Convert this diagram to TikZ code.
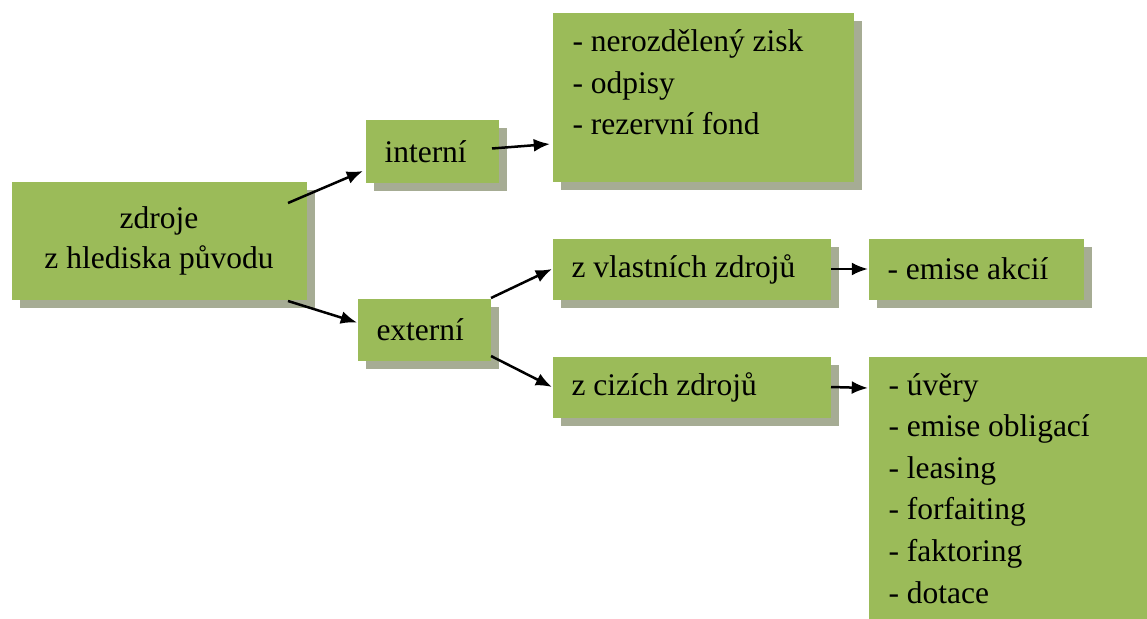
\documentclass[tikz,border=0pt]{standalone}
\usepackage{fontspec}
\setmainfont{Liberation Serif}
\usetikzlibrary{arrows.meta,shadows}
\definecolor{boxgreen}{RGB}{155,187,89}
\definecolor{shadowgrey}{RGB}{166,172,148}
\tikzset{
  box/.style={fill=boxgreen, anchor=north west, inner sep=0pt,
    drop shadow={shadow xshift=3.2pt, shadow yshift=-3.2pt, fill=shadowgrey, opacity=1},
    font=\rmfamily\fontsize{12.6}{16}\selectfont},
  labelbox/.style={box, align=flush left, inner xsep=7.6pt},
  item/.style={anchor=base west, inner sep=0pt, font=\rmfamily\fontsize{12.6}{16}\selectfont},
  link/.style={-{Latex[length=6.5pt,width=5.2pt]}, line width=1pt}
}
\begin{document}
\begin{tikzpicture}[x=0.4pt,y=-0.4pt]
\useasboundingbox (0,0) rectangle (1147,619);

%Boxes
\node[box, align=center, minimum width=118pt, minimum height=46.8pt] (zdroje) at (11,182) {zdroje\\z hlediska původu};
\node[labelbox, text width=38pt, minimum height=24.8pt] (interni) at (365,120) {interní};
\node[labelbox, text width=38pt, minimum height=24.8pt] (externi) at (357,298) {externí};
\node[box, minimum width=120.4pt, minimum height=67.2pt] (intlist) at (552,13) {};
\node[labelbox, text width=96pt, minimum height=24.4pt] (vlastni) at (552,238) {z vlastních zdrojů};
\node[labelbox, text width=70.8pt, minimum height=24.4pt] (emise) at (868,238) {- emise akcií};
\node[labelbox, text width=96pt, minimum height=24.4pt] (cizi) at (552,356) {z cizích zdrojů};
\node[box, minimum width=120pt, minimum height=110pt] (extlist) at (868,356) {};

%Lists
\foreach \t [count=\i from 0] in {nerozdělený zisk, odpisy, rezervní fond}
  \node[item] (int\i) at (572, 52+41.5*\i) {- \t};
\foreach \t [count=\i from 0] in {úvěry, emise obligací, leasing, forfaiting, faktoring, dotace}
  \node[item] (ext\i) at (888, 395+41.6*\i) {- \t};

%Arrows
\draw[link] ([shift={(-19,21)}]zdroje.north east) -- ([shift={(-2,-12)}]interni.south west);
\draw[link] ([shift={(-19,1)}]zdroje.south east) -- ([shift={(0,-7)}]externi.west);
\draw[link] ([shift={(-7,-3)}]interni.east) -- ([shift={(-2,131)}]intlist.north west);
\draw[link] (externi.north east) -- (vlastni.west);
\draw[link] ([shift={(0,-5)}]externi.south east) -- (cizi.west);
\draw[link] (vlastni.east) -- (emise.west);
\draw[link] (cizi.east) -- ([shift={(0,32)}]extlist.north west);
\end{tikzpicture}
\end{document}
